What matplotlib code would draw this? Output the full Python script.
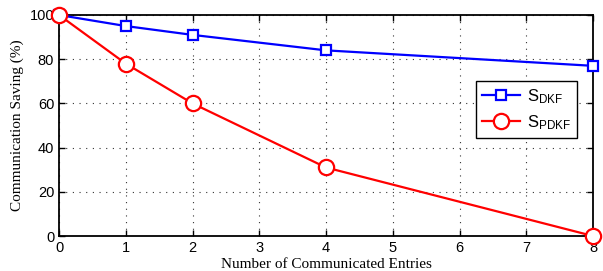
import matplotlib
matplotlib.use("Agg")
import matplotlib.pyplot as plt

entries_dkf = [0, 1, 2, 4, 8]
saving_dkf = [100, 95, 91, 84, 77]
entries_pdkf = [0, 1, 2, 4, 8]
saving_pdkf = [100, 78, 60, 31, 0]

xticks = list(range(0, 9))
yticks = [0, 20, 40, 60, 80, 100]

plt.rcParams['font.family'] = ['Liberation Sans', 'DejaVu Sans']
plt.rcParams['mathtext.fontset'] = 'custom'
plt.rcParams['mathtext.rm'] = 'Liberation Sans'

fig = plt.figure(figsize=(6.03, 2.71), dpi=100)
ax = fig.add_axes([59 / 603, 35 / 271, 534 / 603, 221 / 271])

ax.plot(entries_dkf, saving_dkf, color='blue', lw=1.6, marker='s', ms=7,
        mfc='white', mec='blue', mew=1.6, label=r'$\mathregular{S_{DKF}}$', clip_on=False, zorder=3)
ax.plot(entries_pdkf, saving_pdkf, color='red', lw=1.6, marker='o', ms=11,
        mfc='white', mec='red', mew=1.6, label=r'$\mathregular{S_{PDKF}}$', clip_on=False, zorder=3)

ax.set_xlim(0, 8)
ax.set_ylim(0, 100)
ax.set_xticks(xticks)
ax.set_yticks(yticks)
ax.grid(True, color='#333333', linestyle=(0, (1, 5)), lw=0.8)
ax.tick_params(direction='in', top=True, right=True, labelsize=10.5, length=4, width=1)
for s in ax.spines.values():
    s.set_linewidth(1.3)

ax.set_xlabel('Number of Communicated Entries', family='Liberation Serif', fontsize=11, labelpad=2)
ax.set_ylabel('Communication Saving (%)', family='Liberation Serif', fontsize=11, labelpad=4)

leg = ax.legend(loc='upper left', bbox_to_anchor=(0.781, 0.701), fontsize=12,
                fancybox=False, edgecolor='black', framealpha=1, handlelength=2.3,
                borderpad=0.35, labelspacing=0.45, handletextpad=0.4, borderaxespad=0)
leg.get_frame().set_linewidth(1.0)

fig.savefig('out.png', dpi=100)
